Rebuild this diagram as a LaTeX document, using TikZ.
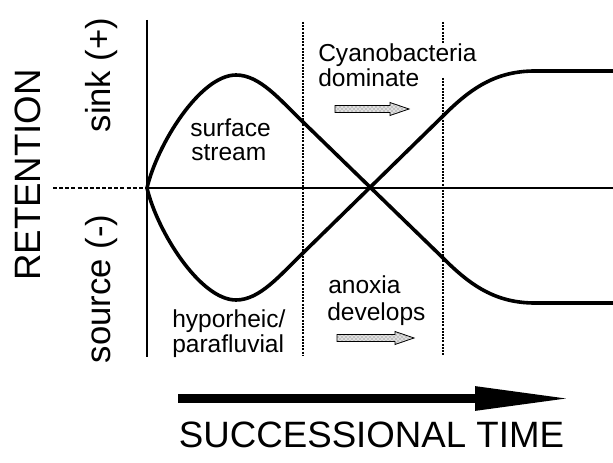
\documentclass[tikz,border=0pt]{standalone}
\usepackage{fontspec}
\setmainfont{Liberation Sans}
\usetikzlibrary{patterns,arrows.meta}
\begin{document}
\begin{tikzpicture}[x=0.75pt,y=-0.75pt,
  axisline/.style={line width=1pt},
  curve/.style={line width=2.7pt, line join=round},
  divider/.style={line width=2.2pt, dash pattern=on 1.5pt off 0.9pt},
  smallarrow/.style={draw=black, line width=0.6pt, line join=miter, preaction={fill=gray!25}, pattern=crosshatch dots, pattern color=gray!75!black},
  biglabel/.style={font=\fontsize{27.5}{30}\selectfont, inner sep=0pt, anchor=base},
  sidelabel/.style={font=\fontsize{26}{28}\selectfont, inner sep=0pt, rotate=90, anchor=base},
  note/.style={font=\fontsize{18.4}{19}\selectfont, inner sep=0pt, anchor=base west}]
\path[use as bounding box] (0,0) rectangle (613,463);

% axes
\coordinate (O) at (147,188);
\coordinate (vtop) at (147,20);
\coordinate (vbot) at (147,357);
\coordinate (hend) at (613,188);
\coordinate (hstart) at (53,188);
\draw[axisline] (vtop) -- (vbot);
\draw[axisline] (O) -- (hend);
\draw[axisline, dash pattern=on 3pt off 1.6pt] (hstart) -- (O);

% dotted dividers
\draw[divider] (303,22) -- (303,356);
\draw[divider] (443,22) -- (443,43);
\draw[divider] (443,78) -- (443,356);

% curves
\draw[curve] (O) .. controls (157,145) and (200,75) .. (236,75)
  .. controls (260,75) and (280,100) .. (303,122) -- (443,258)
  .. controls (470,285) and (495,303) .. (535,303) -- (613,303);
\draw[curve] (O) .. controls (157,231) and (200,300) .. (236,300)
  .. controls (260,300) and (280,275) .. (303,253) -- (443,116)
  .. controls (470,89) and (495,71) .. (535,71) -- (613,71);

% labels
\node[biglabel, rotate=90] (ret) at (40,175) {RETENTION};
\node[sidelabel] (sink) at (110,75) {sink (+)};
\node[sidelabel] (source) at (110,289) {source (-)};
\node[biglabel] (time) at (371.5,447) {SUCCESSIONAL TIME};

\node[note] (surf1) at (190,137) {surface};
\node[note] (surf2) at (191,161) {stream};
\node[note] (hyp1) at (172,327) {hyporheic/};
\node[note] (hyp2) at (172,352) {parafluvial};
\node[note] (cya1) at (318,62) {Cyanobacteria};
\node[note] (cya2) at (318,87) {dominate};
\node[note] (anox1) at (328,293) {anoxia};
\node[note] (anox2) at (327,320) {develops};

% small hatched arrows
\path[smallarrow] (335,105.5) -- (390,105.5) -- (390,102.5) -- (409,109)
  -- (390,115.5) -- (390,112.5) -- (335,112.5) -- cycle;
\path[smallarrow] (337,334.5) -- (395,334.5) -- (395,331.5) -- (414,338)
  -- (395,344.5) -- (395,341.5) -- (337,341.5) -- cycle;

% big time arrow
\coordinate (tstart) at (178,398.5);
\coordinate (tend) at (573,398.5);
\draw[line width=6.75pt, -{Triangle[length=73.5pt, width=16.5pt]}] (tstart) -- (tend);
\end{tikzpicture}
\end{document}
